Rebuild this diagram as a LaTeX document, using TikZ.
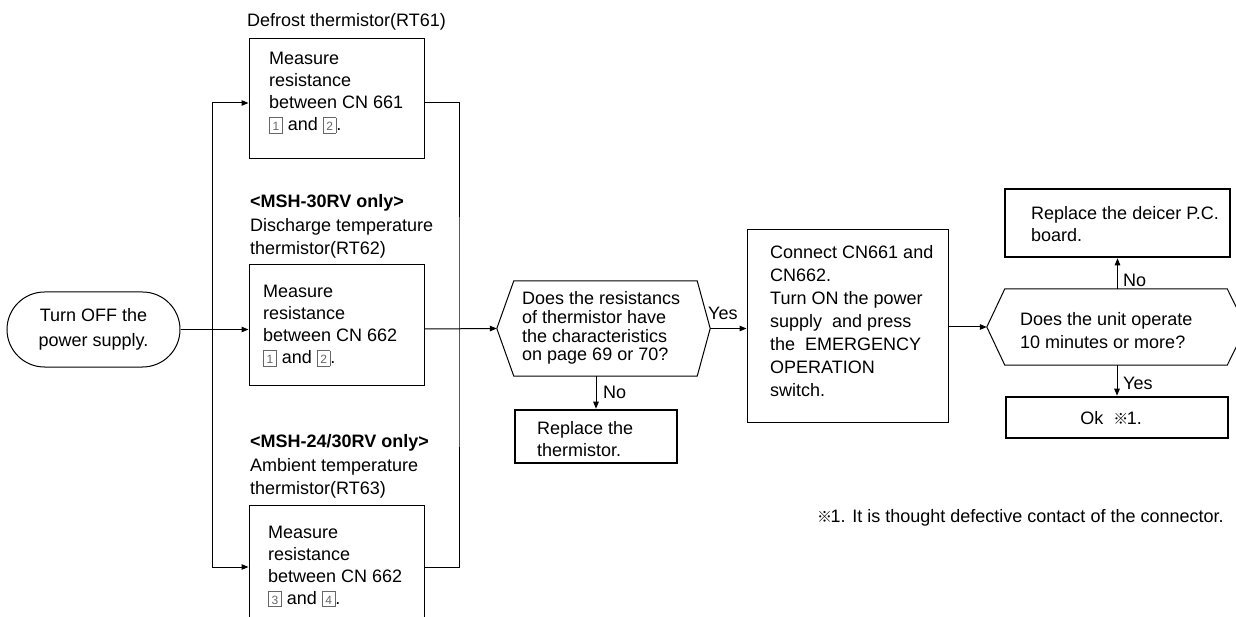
\documentclass[tikz,border=0pt]{standalone}
\usepackage{fontspec}
\setmainfont{Liberation Sans}
\newfontfamily\cjk{Noto Sans CJK JP}
\usetikzlibrary{arrows.meta,shapes.misc,calc}
\newcommand{\sqd}[1]{{\color{black!60}\setlength{\fboxsep}{0.6pt}\setlength{\fboxrule}{0.7pt}\fbox{\makebox[11pt]{\rule[-1.5pt]{0pt}{13.5pt}\fontsize{12}{12}\selectfont #1}}}}
\newcommand{\refmark}{{\cjk\bfseries\fontsize{15}{15}\selectfont ※}\kern-1.5pt}
\begin{document}
\begin{tikzpicture}[x=1pt,y=-1pt,
  every node/.style={font=\fontsize{18}{22}\selectfont, inner sep=0pt},
  ln/.style={line width=1pt},
  arr/.style={line width=1pt,-{Triangle[length=7pt,width=5.5pt]}},
  box/.style={draw, line width=1pt, rectangle},
  tbox/.style={draw, line width=2.6pt, rectangle},
  txt/.style={anchor=west, align=left}]
\clip (0,0) rectangle (1236,617);
\fill[white] (0,0) rectangle (1236,617);

% start terminal
\node[draw, line width=1pt, rounded rectangle, minimum width=173pt, minimum height=75pt, align=center,
  font=\fontsize{18}{25}\selectfont] (start) at (93.5,329.5) {Turn OFF the\\power supply.};

% measuring boxes
\node[box, minimum width=175pt, minimum height=120pt] (box1) at (336.5,99) {};
\node[box, minimum width=175pt, minimum height=120pt] (box2) at (336.5,325) {};
\node[box, minimum width=175pt, minimum height=124pt] (box3) at (336.5,567) {};
\node[txt] (t1) at (269,93) {Measure\\resistance\\between CN 661\\\sqd{1} and \sqd{2}.};
\node[txt] (t2) at (263,326) {Measure\\resistance\\between CN 662\\\sqd{1} and \sqd{2}.};
\node[txt] (t3) at (268,566.5) {Measure\\resistance\\between CN 662\\\sqd{3} and \sqd{4}.};

% labels above
\node[txt] (l1) at (247,22) {Defrost thermistor(RT61)};
\node[txt, font=\fontsize{18}{23.5}\selectfont] (l2) at (250,226.5) {\textbf{<MSH-30RV only>}\\Discharge temperature\\thermistor(RT62)};
\node[txt, font=\fontsize{18}{23.5}\selectfont] (l3) at (250,466.5) {\textbf{<MSH-24/30RV only>}\\Ambient temperature\\thermistor(RT63)};

% decision 1
\node[minimum width=213pt, minimum height=95pt] (d1) at (603.5,328.5) {};
\draw[ln] (d1.west) -- ($(d1.north west)+(17,0)$) -- ($(d1.north east)+(-13,0)$) -- (d1.east)
  -- ($(d1.south east)+(-13,0)$) -- ($(d1.south west)+(17,0)$) -- cycle;
\node[txt, font=\fontsize{18}{18.8}\selectfont] (td1) at (522,328) {Does the resistancs\\of thermistor have\\the characteristics\\on page 69 or 70?};

% replace thermistor
\node[tbox, minimum width=162pt, minimum height=53pt] (box5) at (596,436.5) {};
\node[txt] (t5) at (537,439) {Replace the\\thermistor.};

% box4
\node[box, minimum width=201pt, minimum height=192pt] (box4) at (847.5,326) {};
\node[txt, font=\fontsize{18}{23}\selectfont] (t4) at (770,321) {Connect CN661 and\\CN662.\\Turn ON the power\\supply\ \ and press\\the\ \ EMERGENCY\\OPERATION\\switch.};

% decision 2
\node[minimum width=259pt, minimum height=76pt] (d2) at (1116.5,327) {};
\draw[ln] (d2.west) -- ($(d2.north west)+(18,0)$) -- ($(d2.north east)+(-19,0)$) -- (d2.east)
  -- ($(d2.south east)+(-19,0)$) -- ($(d2.south west)+(18,0)$) -- cycle;
\node[txt, font=\fontsize{18}{23}\selectfont] (td2) at (1020,331) {Does the unit operate\\10 minutes or more?};

% deicer and ok boxes
\node[tbox, minimum width=225pt, minimum height=68pt] (box6) at (1117.5,223) {};
\node[txt] (t6) at (1031,224) {Replace the deicer P.C.\\board.};
\node[tbox, minimum width=222pt, minimum height=41pt] (box7) at (1117,417.5) {};
\node (t7) at (1111,418) {Ok\ \ \refmark1.};

% footnote
\node[txt] (fn) at (817,518) {\refmark1. It is thought defective contact of the connector.};

% connectors
\coordinate (jL) at (212,329.5);
\coordinate (jR) at (459,329);
\draw[arr] (start.east) -- (start.east -| box2.west);
\draw[arr] (jL) |- ($(box1.west)+(0,4)$);
\draw[arr] (jL) |- (box3.west);
\draw[ln] ($(box1.east)+(0,4)$) -| (jR) |- (box3.east);
\draw[arr] (box2.east |- jR) -- (d1.west);
\draw[arr] (d1.east) -- (d1.east -| box4.west);
\draw[arr] (box5.north |- d1.south) -- (box5.north);
\draw[arr] (box4.east |- d2.west) -- (d2.west);
\draw[arr] (box6.south |- d2.north) -- (box6.south);
\draw[arr] (box7.north |- d2.south) -- (box7.north);

% branch labels
\node[anchor=west] (yes1) at (708,313) {Yes};
\node[anchor=west] (no1) at (603,392) {No};
\node[anchor=west] (no2) at (1123,280) {No};
\node[anchor=west] (yes2) at (1123,383) {Yes};
\end{tikzpicture}
\end{document}
